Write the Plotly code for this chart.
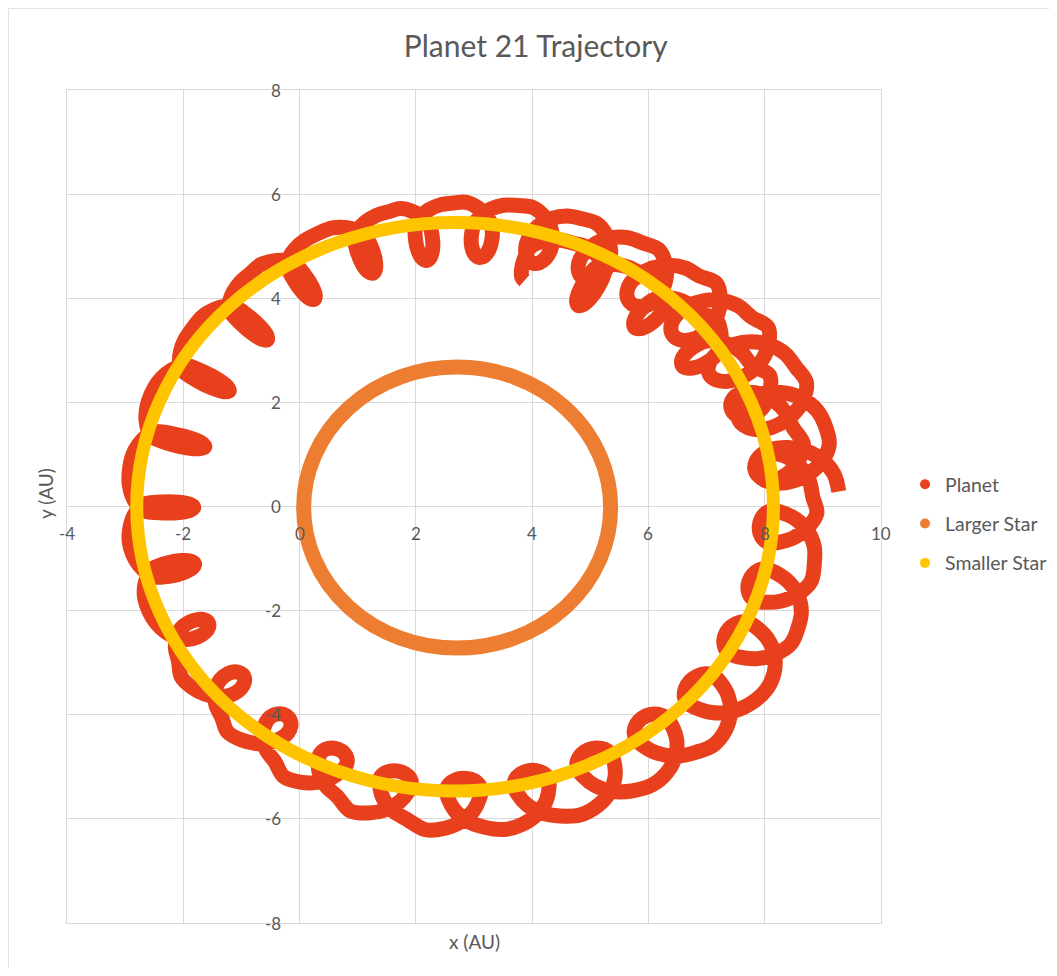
import numpy as np
import plotly.graph_objects as go

# ---------------- text / labels ----------------
TITLE = "Planet 21 Trajectory"
X_TITLE = "x (AU)"
Y_TITLE = "y (AU)"
SERIES_NAMES = ["Planet", "Larger Star", "Smaller Star"]
SERIES_COLORS = ["#E8401C", "#ED7D31", "#FFC400"]

X_TICKS = [-4, -2, 0, 2, 4, 6, 8, 10]
Y_TICKS = [-8, -6, -4, -2, 0, 2, 4, 6, 8]

# ---------------- star orbits (AU) ----------------
LARGER_STAR_CENTER = (2.71, -0.02)
LARGER_STAR_RADII = (2.64, 2.70)
SMALLER_STAR_CENTER = (2.675, -0.005)
SMALLER_STAR_RADII = (5.475, 5.46)

# ---------------- planet loops ----------------
# common centre of the system
BARYCENTER = (2.68, 0.0)
# angular position of each loop around the centre (deg), in travel order
loop_angle_deg = [8.0, 19.0, 30.0, 41.0, 52.0, 63.0, 74.0, 85.0, 96.0,
                  107.6, 121.4, 135.3, 150.3, 165.1, 180.2, 193.8, 207.7,
                  221.4, 234.1, 246.6, 259.0, 271.5, 283.8, 296.0, 308.3,
                  320.2, 332.6, 344.0, 355.9,
                  368.0, 381.3, 394.7, 408.0, 421.3, 434.7]
# distance of the outer envelope of the path from the centre (AU)
loop_outer_r = [6.60, 6.55, 6.44, 6.26, 6.10, 6.00, 5.94, 5.88, 5.83,
                5.78, 5.75, 5.70, 5.67, 5.66, 5.65, 5.65, 5.64,
                5.74, 5.84, 5.97, 6.12, 6.23, 6.26, 6.30, 6.33,
                6.38, 6.40, 6.34, 6.27,
                6.15, 6.00, 5.78, 5.62, 5.50, 5.45]
# distance of the inner tip of each loop from the centre (AU)
loop_inner_r = [5.20, 5.15, 5.05, 4.98, 4.93, 4.90, 4.86, 4.80, 4.75,
                4.70, 4.66, 4.55, 4.48, 4.46, 4.50, 4.62, 4.80,
                4.88, 4.96, 5.08, 5.18, 5.22, 5.23, 5.20, 5.18,
                5.25, 5.25, 5.25, 5.24,
                5.25, 5.10, 4.75, 4.62, 4.40, 4.50]
# how open each loop is (1.6 = thin tadpole, 3.3 = wide round loop)
loop_fatness = [3.4, 3.4, 3.3, 3.2, 3.1, 2.95, 2.75, 2.5, 2.25,
                2.05, 1.85, 1.8, 1.8, 1.8, 1.85, 2.0, 2.15,
                2.35, 2.55, 2.75, 2.9, 3.0, 3.05, 3.15, 3.25,
                3.3, 3.3, 3.25, 3.15,
                2.9, 2.6, 2.35, 2.2, 2.05, 1.95]

# ---------------- build the planet path from the loop readings ----------------
LOOP_GAP = 0.22                      # envelope-to-crossing distance of a loop
PHASES = np.deg2rad(np.arange(-180.0, 180.0, 22.5))
_grid = np.linspace(0.05, 3.1, 4000)
_ratio = _grid / np.sin(_grid)

th = np.deg2rad(loop_angle_deg)
n_loops = len(th)
planet_x, planet_y = [], []
for i in range(n_loops):
    if i == 0:
        dth = th[1] - th[0]
    elif i == n_loops - 1:
        dth = th[-1] - th[-2]
    else:
        dth = (th[i + 1] - th[i - 1]) / 2.0
    k = loop_fatness[i]
    psi_c = np.interp(k, _ratio, _grid)
    a_out = LOOP_GAP / (1.0 + np.cos(psi_c))
    rc = loop_outer_r[i] - a_out
    a_in = rc - loop_inner_r[i]
    ph = PHASES if i < n_loops - 1 else PHASES[PHASES <= 0]
    a = np.where(np.abs(ph) < np.pi / 2, a_in, a_out)
    r = rc - a * np.cos(ph)
    ang = th[i] + dth / (2 * np.pi) * (ph - k * np.sin(ph))
    planet_x.extend((BARYCENTER[0] + r * np.cos(ang)).tolist())
    planet_y.extend((BARYCENTER[1] + r * np.sin(ang)).tolist())

# ---------------- figure ----------------
FONT = "Lato, 'Open Sans', sans-serif"
TXT = "#595959"
GRID = "#d9d9d9"

fig = go.Figure()

fig.add_trace(go.Scatter(
    x=planet_x, y=planet_y, mode="lines",
    line=dict(color=SERIES_COLORS[0], width=15, shape="spline", smoothing=1.0),
    showlegend=False, hoverinfo="skip"))

# legend entries (dots, like the original)
for i, name in enumerate(SERIES_NAMES):
    fig.add_trace(go.Scatter(
        x=[None], y=[None], mode="markers", name=name,
        legendgroup=name,
        marker=dict(size=10, color=SERIES_COLORS[i])))

shapes = []
for (cx, cy), (rx, ry), col, w in [
        (LARGER_STAR_CENTER, LARGER_STAR_RADII, SERIES_COLORS[1], 15),
        (SMALLER_STAR_CENTER, SMALLER_STAR_RADII, SERIES_COLORS[2], 13)]:
    shapes.append(dict(type="circle", xref="x", yref="y",
                       x0=cx - rx, x1=cx + rx, y0=cy - ry, y1=cy + ry,
                       line=dict(color=col, width=w),
                       fillcolor="rgba(0,0,0,0)", layer="above"))
# outer chart frame
shapes.append(dict(type="rect", xref="paper", yref="paper",
                   x0=-0.0719, x1=1.4, y0=-0.3, y1=1.0978,
                   line=dict(color="#e3e3e3", width=1), layer="below"))

annotations = []
for v in Y_TICKS:
    annotations.append(dict(x=0, y=v, xref="x", yref="y", text=str(v),
                            showarrow=False, xanchor="right", yanchor="middle",
                            xshift=-17, font=dict(family=FONT, size=17, color=TXT)))
for v in X_TICKS:
    annotations.append(dict(x=v, y=0, xref="x", yref="y", text=str(v),
                            showarrow=False, xanchor="center", yanchor="middle",
                            yshift=-27, font=dict(family=FONT, size=17, color=TXT)))
annotations.append(dict(x=0.5, y=-0.0228, xref="paper", yref="paper", text=X_TITLE,
                        showarrow=False, xanchor="center", yanchor="middle",
                        font=dict(family=FONT, size=19, color=TXT)))
annotations.append(dict(x=-0.027, y=0.515, xref="paper", yref="paper", text=Y_TITLE,
                        showarrow=False, xanchor="center", yanchor="middle", textangle=-90,
                        font=dict(family=FONT, size=19, color=TXT)))

axis_common = dict(showgrid=True, gridcolor=GRID, gridwidth=1,
                   zeroline=True, zerolinecolor=GRID, zerolinewidth=1,
                   showline=True, linecolor=GRID, linewidth=1, mirror=True,
                   showticklabels=False, ticks="", dtick=2)

# the page adds an 8 px margin around the figure, so the figure is 16 px smaller
fig.update_layout(
    width=1041, height=960, autosize=False,
    margin=dict(l=59, r=168, t=82, b=45),
    paper_bgcolor="white", plot_bgcolor="white",
    title=dict(text=TITLE, x=0.507, xanchor="center", y=0.96, yanchor="middle",
               font=dict(family=FONT, size=30, color=TXT)),
    xaxis=dict(range=[-4, 10], **axis_common),
    yaxis=dict(range=[-8, 8], **axis_common),
    legend=dict(xref="container", yref="container",
                x=0.8617, xanchor="left", y=0.4625, yanchor="middle",
                font=dict(family=FONT, size=19.5, color=TXT),
                itemwidth=30, tracegroupgap=11, bgcolor="rgba(0,0,0,0)"),
    shapes=shapes, annotations=annotations,
    font=dict(family=FONT, color=TXT),
)

fig.write_html("out.html")
